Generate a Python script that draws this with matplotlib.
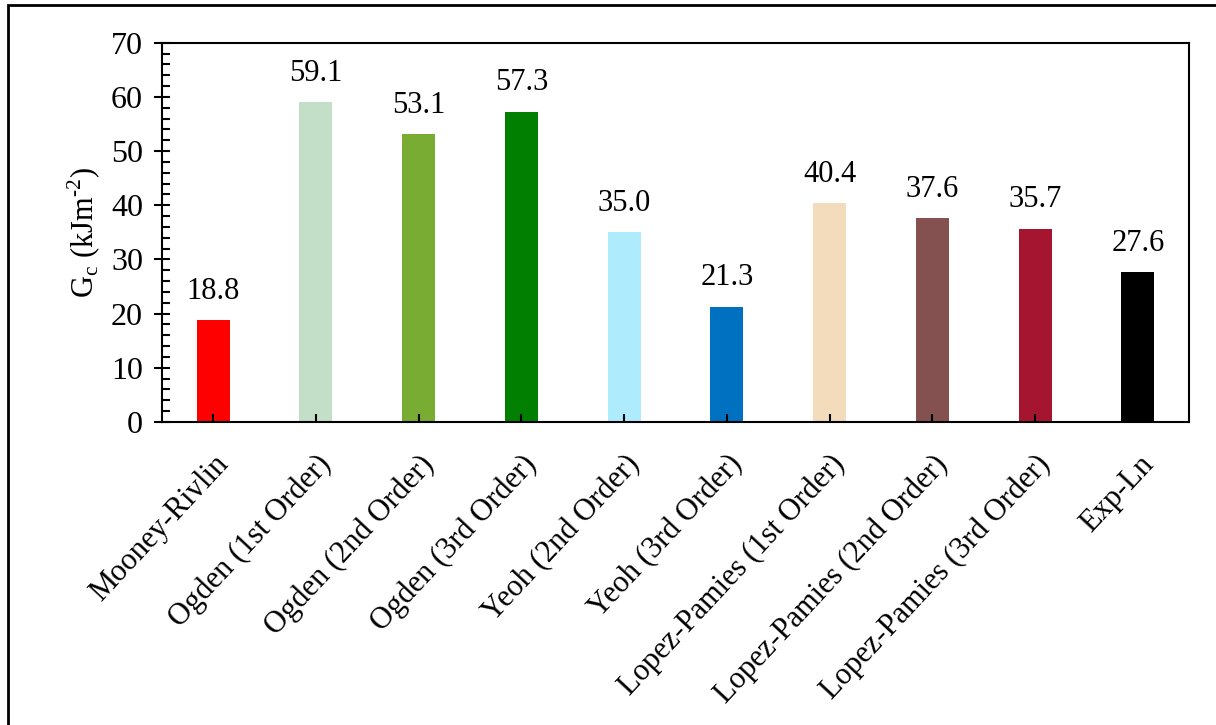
import matplotlib.pyplot as plt
from matplotlib.patches import Rectangle
from matplotlib.ticker import MultipleLocator

models = ['Mooney-Rivlin', 'Ogden (1st Order)', 'Ogden (2nd Order)', 'Ogden (3rd Order)',
          'Yeoh (2nd Order)', 'Yeoh (3rd Order)', 'Lopez-Pamies (1st Order)',
          'Lopez-Pamies (2nd Order)', 'Lopez-Pamies (3rd Order)', 'Exp-Ln']
gc_values = [18.8, 59.1, 53.1, 57.3, 35.0, 21.3, 40.4, 37.6, 35.7, 27.6]
bar_colors = ['#FF0000', '#C3DFC8', '#78AC32', '#007F00', '#AEEBFC',
              '#0070C0', '#F2DCBB', '#855050', '#A51530', '#000000']

plt.rcParams['font.family'] = ['Liberation Serif', 'DejaVu Serif']
plt.rcParams['mathtext.fontset'] = 'custom'
plt.rcParams['mathtext.rm'] = 'Liberation Serif'

fig = plt.figure(figsize=(12.16, 7.25), dpi=100)
ax = fig.add_axes([0.133, 0.418, 0.845, 0.523])

x = range(len(models))
ax.bar(x, gc_values, width=0.32, color=bar_colors)
for xi, v in zip(x, gc_values):
    ax.text(xi, v + 2.6, f'{v:.1f}', ha='center', va='bottom', fontsize=22)

ax.set_xlim(-0.5, len(models) - 0.5)
ax.set_ylim(0, 70)
ax.yaxis.set_major_locator(MultipleLocator(10))
ax.yaxis.set_minor_locator(MultipleLocator(2))
ax.tick_params(axis='y', which='major', direction='inout', length=11, width=1.5, labelsize=23, pad=8)
ax.tick_params(axis='y', which='minor', direction='in', length=6, width=1.5)
ax.tick_params(axis='x', which='major', direction='in', length=6, width=1.5, labelsize=22, pad=20)
ax.set_xticks(list(x))
ax.set_xticklabels(models, rotation=47, ha='right', rotation_mode='anchor')
ax.set_ylabel('G$_\\mathregular{c}$ (kJm$^\\mathregular{\u2010 2}$)', fontsize=22, labelpad=6)
for s in ax.spines.values():
    s.set_linewidth(1.5)

# outer frame, cropped at right/bottom like the original
fig.patches.append(Rectangle((8 / 1216, -0.1), 1.2, 1 - 5 / 725 + 0.1, transform=fig.transFigure,
                             fill=False, edgecolor='black', linewidth=2))

fig.savefig('out.png', dpi=100)
